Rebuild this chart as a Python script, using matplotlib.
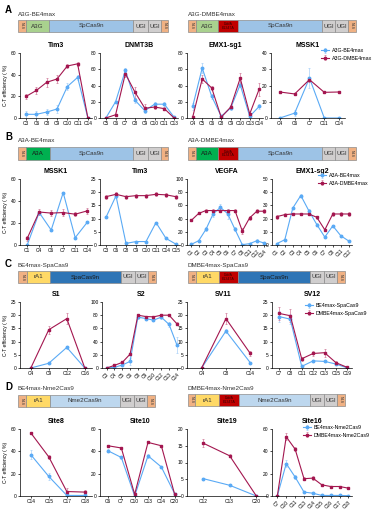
import numpy as np
import matplotlib
matplotlib.use("Agg")
import matplotlib.pyplot as plt
from matplotlib.patches import Rectangle

W, H = 378, 514
BLUE = "#5aaaf5"
RED = "#a3164f"

# ---- data: panel A (A3G) ----
a1_labels = ["C3", "C6", "C8", "C9", "C10", "C11", "C14"]
a1_blue = [3.4, 3.4, 5.5, 8.3, 29, 37.5, 0]
a1_red = [20, 25.5, 33, 36, 48, 50, 0]
a1_blue_err = [3, 3, 3, 4, 3, 2, 0]
a1_red_err = [2, 3, 4, 4, 2, 2, 0]

a2_labels = ["C5", "C6", "C7", "C8", "C9", "C10", "C11", "C13"]
a2_blue = [0, 20, 58.6, 21.7, 9, 17, 17, 1]
a2_red = [0, 4, 54.5, 31.5, 12, 13.5, 11.5, 0]
a2_blue_err = [0, 1, 3, 3, 3, 3, 3, 0.5]
a2_red_err = [0, 1, 4, 7, 5, 2, 2, 0]

a3_labels = ["C4", "C5", "C6", "C8", "C9", "C10", "C13", "C14"]
a3_blue = [14.3, 61.5, 26.6, 2, 12.3, 41, 2, 14.3]
a3_red = [1.2, 48, 37, 1, 13.5, 49, 5, 35.6]
a3_blue_err = [4, 6, 3, 1, 2, 3, 1, 3]
a3_red_err = [0.5, 5, 3, 0.5, 2, 6, 1, 8]

a4_labels = ["C4", "C6", "C7", "C11", "C14"]
a4_blue = [0, 3, 24.6, 0, 0]
a4_red = [16, 14.8, 23.6, 15.8, 16]
a4_blue_err = [0, 2, 6, 0, 0]
a4_red_err = [0.5, 0.5, 1.5, 0.5, 0.5]

# ---- data: panel B (A3A) ----
b1_labels = ["C1", "C4", "C6", "C7", "C11", "C14"]
b1_blue = [0, 29.5, 13.6, 47.6, 6.7, 20.6]
b1_red = [6, 30, 29, 29.5, 28, 31]
b1_blue_err = [0, 1, 1, 1, 1, 1]
b1_red_err = [2, 3, 3, 3, 2, 3]

b2_labels = ["C3", "C6", "C8", "C9", "C10", "C11", "C14", "C15"]
b2_blue = [10.5, 18.6, 0.6, 1.3, 1.3, 8.5, 2.5, 0.3]
b2_red = [18.3, 19.2, 18.3, 18.7, 18.7, 19.2, 19, 18.3]
b2_blue_err = [0.3, 0.8, 0.3, 0.3, 0.3, 0.3, 0.3, 0.1]
b2_red_err = [0.8, 0.8, 0.7, 0.8, 0.8, 0.8, 0.8, 0.7]

b3_labels = ["C1", "C2", "C3", "C4", "C5", "C6", "C7", "C8", "C11", "C12", "C14"]
b3_blue = [1, 6.4, 23.6, 47.3, 57, 47.3, 23.6, 0.5, 2, 6.4, 3]
b3_red = [37.4, 47.8, 52.2, 52.2, 52.2, 52.2, 52.2, 21.2, 40.9, 51.2, 51.2]
b3_blue_err = [0.5, 1, 3, 5, 5, 8, 3, 0.3, 1, 2, 1]
b3_red_err = [1, 1.5, 2, 2, 2, 2, 2, 4, 3, 3, 3]

b4_labels = ["C1", "C2", "C3", "C4", "C5", "C6", "C7", "C8", "C11", "C12"]
b4_blue = [1, 4, 28, 37.5, 26, 15.5, 6, 14.5, 7, 3]
b4_red = [21.5, 23, 23.5, 23.5, 23.5, 21, 11.5, 23.5, 23.5, 23.5]
b4_blue_err = [0.3, 0.5, 1, 1, 1, 0.8, 0.5, 0.5, 0.5, 0.3]
b4_red_err = [1.5, 1, 1, 1, 1, 1, 1, 1.5, 1.5, 1.5]

# ---- data: panel C (SpaCas9) ----
c1_labels = ["C4", "C9", "C12", "C16"]
c1_blue = [0, 1.8, 7.8, 0]
c1_red = [0, 14.5, 18.7, 0]
c1_blue_err = [0, 0.3, 0.5, 0]
c1_red_err = [0, 1.5, 2, 0]

c2_labels = ["C3", "C4", "C5", "C6", "C8", "C9", "C10", "C12", "C13", "C14"]
c2_blue = [0, 1, 4.5, 10, 77, 75, 72.5, 77, 66, 35]
c2_red = [0, 4, 8.5, 21, 80, 78, 77.5, 80, 80, 67]
c2_blue_err = [0, 0.5, 1, 5, 2, 2, 2, 2, 4, 12]
c2_red_err = [0, 0.5, 1, 2, 1, 1, 1, 1, 1, 2]

c3_labels = ["C4", "C8", "C14"]
c3_blue = [0, 14, 2]
c3_red = [0, 18.7, 5.5]
c3_blue_err = [0, 0.8, 0.3]
c3_red_err = [0, 2, 1]

c4_labels = ["C7", "C8", "C11", "C12", "C13", "C15", "C19"]
c4_blue = [19.5, 18.5, 0.6, 2.7, 2.5, 1.5, 0]
c4_red = [20.7, 19.8, 3.5, 5.5, 5.8, 2, 0.2]
c4_blue_err = [2, 2, 0.3, 0.3, 0.3, 0.3, 0]
c4_red_err = [2.5, 2.5, 0.8, 1, 1.5, 0.8, 0.1]

# ---- data: panel D (Nme2Cas9) ----
d1_labels = ["C14", "C15", "C17", "C18"]
d1_blue = [37, 17.5, 0.5, 0.5]
d1_red = [56.5, 35, 4, 3.5]
d1_blue_err = [4, 3, 0.3, 0.3]
d1_red_err = [1, 2, 3, 2]

d2_labels = ["C6", "C7", "C10", "C13", "C14", "C20"]
d2_blue = [40.5, 34.5, 0, 36, 26, 2]
d2_red = [45, 43, 1.5, 48, 45, 1.5]
d2_blue_err = [1.5, 1.5, 0, 2, 1, 0.5]
d2_red_err = [0.5, 0.5, 0.5, 0.5, 0.5, 0.5]

d3_labels = ["C12", "C13", "C20"]
d3_blue = [5.2, 3.2, 0]
d3_red = [15.8, 12, 0]
d3_blue_err = [0.2, 0.2, 0]
d3_red_err = [1.2, 0.5, 0]

d4_labels = ["C7", "C10", "C11", "C13", "C14", "C15", "C16", "C17", "C18"]
d4_blue = [0, 29, 17, 3.5, 2.5, 0.5, 0.5, 0.5, 0.3]
d4_red = [0, 53, 42, 15.5, 16, 10, 8.5, 8.5, 7]
d4_blue_err = [0, 3, 2, 0.3, 0.3, 0.1, 0.1, 0.1, 0.1]
d4_red_err = [0, 3, 2, 1.5, 1.5, 1, 0.5, 0.5, 0.5]

plt.rcParams["font.family"] = ["Arial", "Liberation Sans", "DejaVu Sans"]
fig = plt.figure(figsize=(W / 100, H / 100), dpi=100)


def add_ax(x0, y0, x1, y1):
    return fig.add_axes([x0 / W, 1 - y1 / H, (x1 - x0) / W, (y1 - y0) / H])


def line_plot(box, title, labels, blue, red, blue_err, red_err, ymax, ystep,
              rotate=False, ylabel=False, legend=None):
    ax = add_ax(*box)
    x = np.arange(len(labels))
    ax.errorbar(x, blue, yerr=blue_err, color=BLUE, marker="o", ms=1.8,
                lw=0.8, elinewidth=0.5, capsize=1, capthick=0.5, ecolor="#a8d0f8",
                label=legend[0] if legend else None)
    ax.errorbar(x, red, yerr=red_err, color=RED, marker="s", ms=1.6,
                lw=0.8, elinewidth=0.5, capsize=1, capthick=0.5, ecolor="#d07a9a",
                label=legend[1] if legend else None)
    ax.set_xlim(-0.6, len(labels) - 0.6)
    ax.set_ylim(0, ymax)
    ax.set_yticks(np.arange(0, ymax + 0.1, ystep))
    ax.set_xticks(x)
    if rotate:
        ax.set_xticklabels(labels, rotation=45, ha="right", rotation_mode="anchor")
    else:
        ax.set_xticklabels(labels)
    ax.tick_params(labelsize=3.5, length=1.5, width=0.5, pad=1)
    for s in ["top", "right"]:
        ax.spines[s].set_visible(False)
    for s in ["left", "bottom"]:
        ax.spines[s].set_linewidth(0.5)
    ax.set_title(title, fontsize=5, fontweight="bold", pad=4)
    if ylabel:
        ax.set_ylabel("C-T efficiency ( %)", fontsize=3.6, labelpad=2)
    if legend:
        lx, ly = legend[2]
        ax.legend(loc="upper left", bbox_to_anchor=(lx / W, 1 - ly / H),
                  bbox_transform=fig.transFigure, fontsize=3.8, frameon=False,
                  handlelength=1.6, handletextpad=0.5, borderpad=0, borderaxespad=0,
                  labelspacing=0.5)
    return ax


# ---- construct diagrams on a full-figure overlay ----
ov = fig.add_axes([0, 0, 1, 1])
ov.set_xlim(0, W)
ov.set_ylim(H, 0)
ov.axis("off")
ov.patch.set_alpha(0)

NLS_C = "#f0b183"
UGI_C = "#d0cece"
PALE_BLUE = "#9dc3e6"


def construct(y0, y1, parts):
    for x0, x1, color, text, tcolor, rot, fs in parts:
        ov.add_patch(Rectangle((x0, y0), x1 - x0, y1 - y0, facecolor=color,
                               edgecolor="#8c8c8c", lw=0.5))
        ov.text((x0 + x1) / 2, (y0 + y1) / 2, text, ha="center", va="center",
                fontsize=fs, color=tcolor, rotation=rot, linespacing=0.9)


def nls(x0, x1):
    return (x0, x1, NLS_C, "NLS", "#333333", 270, 2.6)


def ugi(x0, x1):
    return (x0, x1, UGI_C, "UGI", "#333333", 0, 4.3)


def ddda(x0, x1):
    return (x0, x1, "#c00000", "DddA\nE1347A", "#3a0000", 0, 2.6)


# A
construct(20, 32, [nls(18, 26), (26, 49, "#a9d18e", "A3G", "#333333", 0, 4.5),
                   (49, 133, PALE_BLUE, "SpCas9n", "#333333", 0, 4.5),
                   ugi(133, 148), ugi(148, 161), nls(161, 168)])
construct(20, 32, [nls(188, 196), (196, 218, "#a9d18e", "A3G", "#333333", 0, 4.5),
                   ddda(218, 238), (238, 322, PALE_BLUE, "SpCas9n", "#333333", 0, 4.5),
                   ugi(322, 335), ugi(335, 348), nls(348, 356)])
# B
construct(147, 160, [nls(18, 26), (26, 50, "#00b050", "A3A", "#1a1a1a", 0, 4.5),
                     (50, 133, PALE_BLUE, "SpCas9n", "#333333", 0, 4.5),
                     ugi(133, 148), ugi(148, 161), nls(161, 168)])
construct(147, 160, [nls(188, 196), (196, 218, "#00b050", "A3A", "#1a1a1a", 0, 4.5),
                     ddda(218, 238), (238, 322, PALE_BLUE, "SpCas9n", "#333333", 0, 4.5),
                     ugi(322, 335), ugi(335, 348), nls(348, 356)])
# C
construct(271, 283, [nls(18, 27), (27, 50, "#ffd966", "rA1", "#333333", 0, 4.5),
                     (50, 121, "#2e75b6", "SpaCas9n", "#1a1a1a", 0, 4.5),
                     ugi(121, 135), ugi(135, 148), nls(148, 156)])
construct(271, 283, [nls(188, 196), (196, 219, "#ffd966", "rA1", "#333333", 0, 4.5),
                     ddda(219, 238), (238, 310, "#2e75b6", "SpaCas9n", "#1a1a1a", 0, 4.5),
                     ugi(310, 324), ugi(324, 337), nls(337, 345)])
# D
construct(395, 407, [nls(18, 26), (26, 50, "#ffd966", "rA1", "#333333", 0, 4.5),
                     (50, 120, "#bdd7ee", "Nme2Cas9n", "#333333", 0, 4.5),
                     ugi(120, 134), ugi(134, 147), nls(147, 155)])
construct(394, 406, [nls(188, 195), (195, 219, "#ffd966", "rA1", "#333333", 0, 4.5),
                     ddda(219, 239), (239, 310, "#bdd7ee", "Nme2Cas9n", "#333333", 0, 4.5),
                     ugi(310, 324), ugi(324, 337), nls(337, 345)])

for letter, y in [("A", 10), ("B", 137), ("C", 264), ("D", 387)]:
    ov.text(5, y, letter, fontsize=7, fontweight="bold", ha="left", va="center")
for name, x, y in [("A3G-BE4max", 18, 15), ("A3G-DMBE4max", 188, 15),
                   ("A3A-BE4max", 18, 141), ("A3A-DMBE4max", 188, 141),
                   ("BE4max-SpaCas9", 18, 265), ("DMBE4max-SpaCas9", 188, 265),
                   ("BE4max-Nme2Cas9", 18, 388), ("DMBE4max-Nme2Cas9", 188, 388)]:
    ov.text(x, y, name, fontsize=4.5, ha="left", va="center", color="#333333")

# ---- line charts ----
line_plot((20, 53, 92, 118), "Tim3", a1_labels, a1_blue, a1_red, a1_blue_err, a1_red_err,
          60, 20, ylabel=True)
line_plot((100, 53, 178, 118), "DNMT3B", a2_labels, a2_blue, a2_red, a2_blue_err, a2_red_err,
          80, 20)
line_plot((187, 53, 263, 118), "EMX1-sg1", a3_labels, a3_blue, a3_red, a3_blue_err, a3_red_err,
          80, 20)
line_plot((271, 53, 345, 118), "MSSK1", a4_labels, a4_blue, a4_red, a4_blue_err, a4_red_err,
          40, 10, legend=("A3G-BE4max", "A3G-DMBE4max", (321, 48)))

line_plot((20, 179, 92, 245), "MSSK1", b1_labels, b1_blue, b1_red, b1_blue_err, b1_red_err,
          60, 20, ylabel=True)
line_plot((100, 179, 180, 245), "Tim3", b2_labels, b2_blue, b2_red, b2_blue_err, b2_red_err,
          25, 5)
line_plot((187, 179, 267, 245), "VEGFA", b3_labels, b3_blue, b3_red, b3_blue_err, b3_red_err,
          100, 20, rotate=True)
line_plot((272, 179, 352, 245), "EMX1-sg2", b4_labels, b4_blue, b4_red, b4_blue_err, b4_red_err,
          50, 10, rotate=True, legend=("A3A-BE4max", "A3A-DMBE4max", (318, 173)))

line_plot((20, 302, 92, 368), "S1", c1_labels, c1_blue, c1_red, c1_blue_err, c1_red_err,
          25, 5, ylabel=True)
line_plot((102, 302, 180, 368), "S2", c2_labels, c2_blue, c2_red, c2_blue_err, c2_red_err,
          100, 20, rotate=True)
line_plot((187, 302, 260, 368), "SV11", c3_labels, c3_blue, c3_red, c3_blue_err, c3_red_err,
          25, 5)
line_plot((272, 302, 352, 368), "SV12", c4_labels, c4_blue, c4_red, c4_blue_err, c4_red_err,
          25, 5, legend=("BE4max-SpaCas9", "DMBE4max-SpaCas9", (305, 303)))

line_plot((20, 429, 92, 496), "Site8", d1_labels, d1_blue, d1_red, d1_blue_err, d1_red_err,
          60, 20, ylabel=True)
line_plot((100, 429, 180, 496), "Site10", d2_labels, d2_blue, d2_red, d2_blue_err, d2_red_err,
          60, 20)
line_plot((187, 429, 267, 496), "Site19", d3_labels, d3_blue, d3_red, d3_blue_err, d3_red_err,
          20, 5)
line_plot((272, 429, 352, 496), "Site16", d4_labels, d4_blue, d4_red, d4_blue_err, d4_red_err,
          60, 20, rotate=True, legend=("BE4max-Nme2Cas9", "DMBE4max-Nme2Cas9", (303, 425)))

fig.savefig("out.png", dpi=100)
